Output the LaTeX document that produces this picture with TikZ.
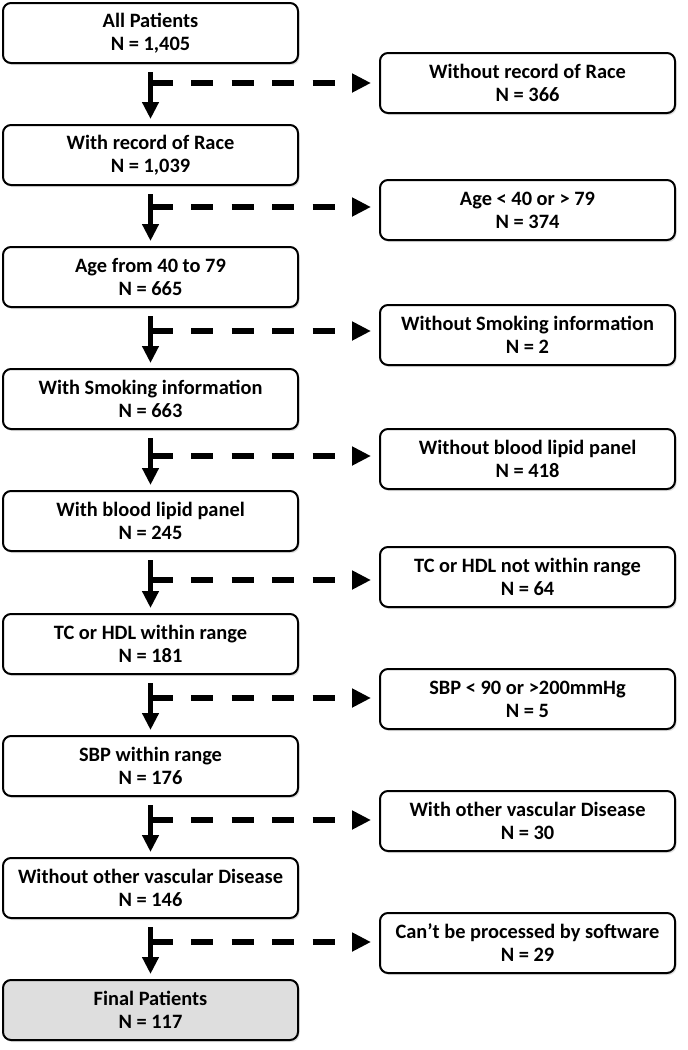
\documentclass[tikz,border=0pt]{standalone}
\usepackage{fontspec}
\setmainfont{Carlito}
\usetikzlibrary{shadows,arrows.meta}
\definecolor{finalfill}{RGB}{222,222,222}
\begin{document}
\begin{tikzpicture}[x=1pt,y=-1pt,
  box/.style={draw=black, line width=2pt, rounded corners=8pt,
    minimum width=295pt, minimum height=60pt, fill=white, align=center,
    font=\bfseries\fontsize{20.4}{23}\selectfont, inner sep=0pt,
    drop shadow={opacity=0.25, shadow xshift=1.5pt, shadow yshift=-2pt}},
  finalbox/.style={box, fill=finalfill},
  mainarrow/.style={line width=5pt, -{Triangle[length=17pt, width=16pt]}},
  excludearrow/.style={line width=5.5pt, dash pattern=on 22pt off 18.5pt,
    -{Triangle[length=19pt, width=18pt]}}
]
\useasboundingbox (0,0) rectangle (688,1050);

% left column
\node[box] (L1) at (150.5,33) {All Patients\\N = 1,405};
\node[box] (L2) at (150.5,155) {With record of Race\\N = 1,039};
\node[box] (L3) at (150.5,277) {Age from 40 to 79\\N = 665};
\node[box] (L4) at (150.5,399) {With Smoking information\\N = 663};
\node[box] (L5) at (150.5,521) {With blood lipid panel\\N = 245};
\node[box] (L6) at (150.5,644) {TC or HDL within range\\N = 181};
\node[box] (L7) at (150.5,766) {SBP within range\\N = 176};
\node[box] (L8) at (150.5,888) {Without other vascular Disease\\N = 146};
\node[finalbox] (L9) at (150.5,1010) {Final Patients\\N = 117};

% right column
\node[box] (R1) at (527.5,83) {Without record of Race\\N = 366};
\node[box] (R2) at (527.5,210) {Age < 40 or > 79\\N = 374};
\node[box] (R3) at (527.5,335) {Without Smoking information\\N = 2};
\node[box] (R4) at (527.5,459) {Without blood lipid panel\\N = 418};
\node[box] (R5) at (527.5,577) {TC or HDL not within range\\N = 64};
\node[box] (R6) at (527.5,699) {SBP < 90 or >200mmHg\\N = 5};
\node[box] (R7) at (527.5,821) {With other vascular Disease\\N = 30};
\node[box] (R8) at (527.5,943) {Can’t be processed by software\\N = 29};

% junctions of the exclusion arrows on the main line
\coordinate (J1) at (150.5,83);
\coordinate (J2) at (150.5,207);
\coordinate (J3) at (150.5,331);
\coordinate (J4) at (150.5,456);
\coordinate (J5) at (150.5,580);
\coordinate (J6) at (150.5,698);
\coordinate (J7) at (150.5,820);
\coordinate (J8) at (150.5,942);

\foreach \k [evaluate=\k as \n using int(\k+1)] in {1,...,8} {
  \draw[mainarrow] ([yshift=-8pt]L\k.south) -- ([yshift=5pt]L\n.north);
  \draw[excludearrow, shorten >=8pt] (J\k) -- (J\k -| R\k.west);
}
\end{tikzpicture}
\end{document}
